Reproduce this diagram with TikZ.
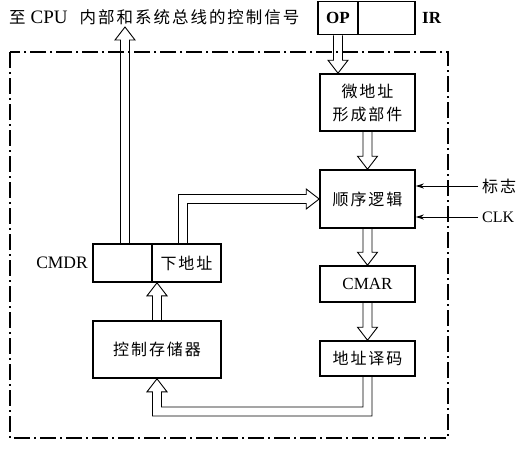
\documentclass[tikz,border=0pt]{standalone}
\usepackage{fontspec}
\setmainfont{Liberation Serif}
\newfontfamily\cjk[LetterSpace=12]{Noto Sans CJK SC}
\usetikzlibrary{calc,arrows.meta}
\tikzset{
  box/.style={draw, line width=1.6pt, inner sep=0pt, align=center,
    font=\cjk\fontsize{16}{23}\selectfont},
  lbox/.style={draw, line width=1.6pt, inner sep=0pt, align=center,
    font=\fontsize{17}{20}\selectfont},
  hol/.style={line width=0.9pt, line join=miter},
  sig/.style={line width=0.9pt, -{Stealth[length=8pt,width=5pt]}},
  frame/.style={line width=1.1pt, dash pattern=on 16pt off 4pt on 2pt off 4pt},
  lbl/.style={inner sep=0pt, font=\fontsize{16}{19}\selectfont},
}
\newcommand\hdown[2]{\draw[hol] ($(#1)+(-4.5,0)$) -- ($(#2)+(-4.5,-13)$) -- ($(#2)+(-10,-13)$) -- (#2) -- ($(#2)+(10,-13)$) -- ($(#2)+(4.5,-13)$) -- ($(#1)+(4.5,0)$);}
\newcommand\hup[2]{\draw[hol] ($(#1)+(-4.5,0)$) -- ($(#2)+(-4.5,13)$) -- ($(#2)+(-10,13)$) -- (#2) -- ($(#2)+(10,13)$) -- ($(#2)+(4.5,13)$) -- ($(#1)+(4.5,0)$);}
\begin{document}
\begin{tikzpicture}[x=1pt,y=-1pt]
\useasboundingbox (0,0) rectangle (527,450);
% frame
\draw[frame] (10,52) rectangle (448,438);
% title
\node[lbl, anchor=west, font=\cjk\fontsize{16.5}{19}\selectfont] (title) at (9,17) {至\hspace{5pt}{\rmfamily\fontsize{19}{20}\selectfont CPU}\hspace{12pt}内部和系统总线的控制信号};
% IR
\node[lbox, minimum width=40pt, minimum height=33pt, font=\bfseries\fontsize{17}{20}\selectfont] (op) at (338,18) {OP};
\node[lbox, minimum width=57pt, minimum height=33pt] (irr) at (386.5,18) {};
\node[lbl, anchor=west, font=\bfseries\fontsize{17}{20}\selectfont] (irl) at (422,18) {IR};
% right column
\node[box, minimum width=95pt, minimum height=57pt] (wd) at (367.5,102.5) {微地址\\形成部件};
\node[box, minimum width=95pt, minimum height=58pt] (sx) at (367.5,199) {顺序逻辑};
\node[lbox, minimum width=95pt, minimum height=36pt] (cmar) at (367.5,284) {CMAR};
\node[box, minimum width=95pt, minimum height=35pt] (dz) at (367.5,358.5) {地址译码};
% left column
\node[box, minimum width=128pt, minimum height=57pt] (kz) at (157,349.5) {控制存储器};
\node[box, minimum width=59pt, minimum height=38pt] (cmdrL) at (122.5,263) {};
\node[box, minimum width=69pt, minimum height=38pt] (cmdrR) at (186.5,263) {下地址};
\node[lbl, anchor=east, font=\fontsize{17.5}{20}\selectfont] (cmdrlbl) at (88,263) {CMDR};
% signals
\coordinate (flag) at (478,186);
\coordinate (clk) at (478,217);
\node[lbl, anchor=west, font=\cjk\fontsize{16}{19}\selectfont] (flagl) at (482,186) {标志};
\node[lbl, anchor=west] (clkl) at (482,217) {CLK};
\draw[sig] (flag) -- (flag -| sx.east);
\draw[sig] (clk) -- (clk -| sx.east);
% hollow straight arrows
\hdown{op.south}{op.south |- wd.north}
\hdown{wd.south}{sx.north}
\hdown{sx.south}{cmar.north}
\hdown{cmar.south}{dz.north}
\hup{kz.north}{kz.north |- cmdrR.south}
\coordinate (uptail) at (125,244);
\coordinate (uptip) at (125,27);
\hup{uptail}{uptip}
% L arrow from next address to sequence logic
\coordinate (nt) at (183,244);
\coordinate (nc) at (nt |- sx.west);
\draw[hol] ($(nt)+(-4.5,0)$) -- ($(nc)+(-4.5,-4.5)$) -- ($(sx.west)+(-13,-4.5)$) -- ($(sx.west)+(-13,-10)$) -- (sx.west) -- ($(sx.west)+(-13,10)$) -- ($(sx.west)+(-13,4.5)$) -- ($(nc)+(4.5,4.5)$) -- ($(nt)+(4.5,0)$);
% loop arrow from decoder to control memory
\coordinate (ly) at (0,411.5);
\coordinate (c1) at (dz.south |- ly);
\coordinate (c2) at (kz.south |- ly);
\draw[hol] ($(dz.south)+(4.5,0)$) -- ($(c1)+(4.5,4.5)$) -- ($(c2)+(-4.5,4.5)$) -- ($(kz.south)+(-4.5,13)$) -- ($(kz.south)+(-10,13)$) -- (kz.south) -- ($(kz.south)+(10,13)$) -- ($(kz.south)+(4.5,13)$) -- ($(c2)+(4.5,-4.5)$) -- ($(c1)+(-4.5,-4.5)$) -- ($(dz.south)+(-4.5,0)$);
\end{tikzpicture}
\end{document}
